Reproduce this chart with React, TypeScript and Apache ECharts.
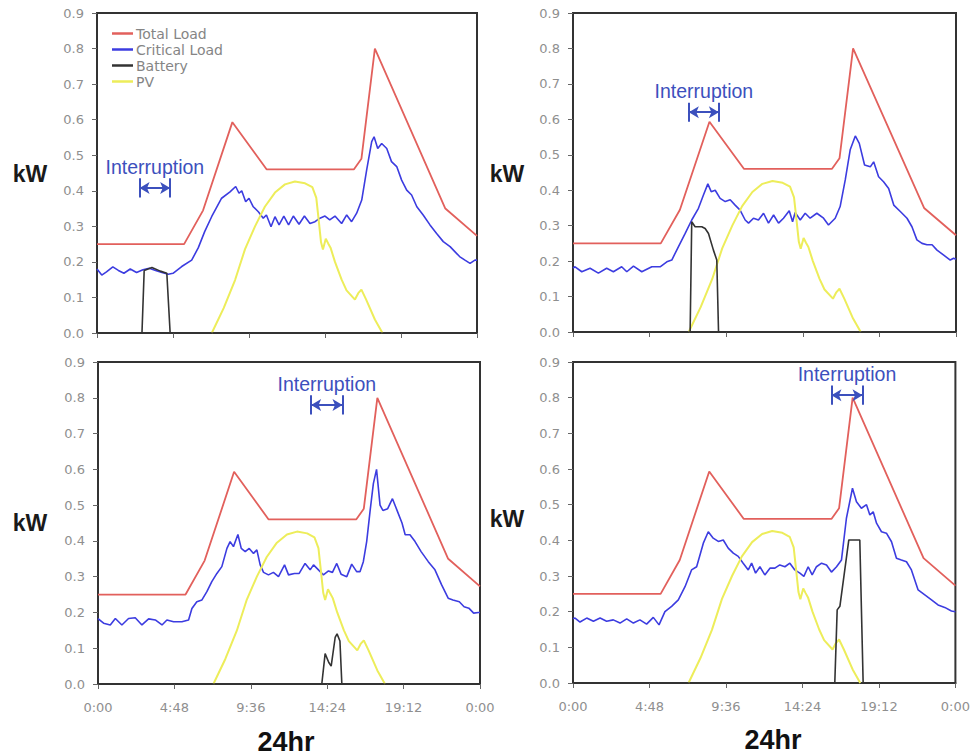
import React, { useEffect, useRef } from "react";
import * as echarts from "echarts";

// ---- data (time in hours, value in kW) ----
const xTickLabels = ["0:00", "4:48", "9:36", "14:24", "19:12", "0:00"];
const legendNames = ["Total Load", "Critical Load", "Battery", "PV"];

const totalLoad: [number, number][] = [
  [0, 0.25], [5.5, 0.25], [6.7, 0.345], [8.55, 0.593], [10.72, 0.46],
  [16.22, 0.46], [16.7, 0.49], [17.55, 0.8], [22.0, 0.35], [24, 0.273],
];

const pv: [number, number][] = [
  [7.25, 0], [8.0, 0.07], [8.72, 0.149], [9.35, 0.236], [9.98, 0.3], [10.6, 0.355],
  [11.24, 0.395], [11.87, 0.418], [12.5, 0.426], [13.14, 0.421], [13.6, 0.41],
  [13.85, 0.38], [14.02, 0.31], [14.15, 0.255], [14.27, 0.235], [14.45, 0.265],
  [14.6, 0.252], [14.75, 0.24], [15.03, 0.2], [15.45, 0.15], [15.76, 0.12],
  [16.29, 0.094], [16.5, 0.112], [16.7, 0.122], [17.0, 0.094], [17.55, 0.038], [18.03, 0],
];

const criticalTL: [number, number][] = [
  [0, 0.18], [0.3, 0.163], [0.6, 0.172], [1.0, 0.186], [1.35, 0.176], [1.7, 0.168],
  [2.1, 0.18], [2.5, 0.17], [2.9, 0.178], [3.3, 0.182], [3.7, 0.176], [4.1, 0.17],
  [4.5, 0.165], [4.8, 0.168], [5.35, 0.187], [5.98, 0.205], [6.4, 0.24], [6.8, 0.285],
  [7.24, 0.327], [7.87, 0.379], [8.4, 0.397], [8.76, 0.412], [8.97, 0.393], [9.14, 0.4],
  [9.39, 0.369], [9.6, 0.379], [9.87, 0.355], [10.19, 0.341], [10.5, 0.323], [10.7, 0.332],
  [10.99, 0.299], [11.24, 0.327], [11.5, 0.304], [11.8, 0.329], [12.1, 0.304], [12.4, 0.329],
  [12.76, 0.306], [13.1, 0.329], [13.45, 0.308], [13.77, 0.313], [14.08, 0.323], [14.4, 0.329],
  [14.7, 0.318], [15.03, 0.329], [15.45, 0.308], [15.77, 0.332], [16.08, 0.313], [16.4, 0.337],
  [16.72, 0.374], [17.03, 0.458], [17.35, 0.538], [17.5, 0.552], [17.73, 0.519], [17.98, 0.533],
  [18.3, 0.519], [18.6, 0.482], [18.93, 0.468], [19.24, 0.43], [19.56, 0.402], [19.87, 0.388],
  [20.2, 0.355], [20.6, 0.332], [21.03, 0.304], [21.45, 0.28], [21.87, 0.257], [22.3, 0.243],
  [22.6, 0.229], [22.9, 0.215], [23.24, 0.205], [23.56, 0.196], [23.87, 0.205], [24, 0.205],
];

const criticalTR: [number, number][] = [
  [0, 0.18], [0.13, 0.184], [0.55, 0.17], [1.07, 0.18], [1.59, 0.166], [2.11, 0.18],
  [2.53, 0.17], [3.05, 0.184], [3.37, 0.17], [3.79, 0.186], [4.31, 0.17], [4.94, 0.184],
  [5.46, 0.184], [5.88, 0.198], [6.19, 0.203], [6.61, 0.241], [7.03, 0.278], [7.44, 0.316],
  [7.86, 0.349], [8.18, 0.387], [8.45, 0.418], [8.66, 0.396], [8.91, 0.4], [9.22, 0.377],
  [9.54, 0.368], [9.85, 0.373], [10.16, 0.358], [10.47, 0.344], [10.79, 0.316], [11.0, 0.307],
  [11.31, 0.321], [11.62, 0.316], [11.94, 0.335], [12.25, 0.307], [12.57, 0.33], [12.88, 0.307],
  [13.19, 0.321], [13.55, 0.342], [13.76, 0.311], [13.92, 0.337], [14.24, 0.316], [14.55, 0.335],
  [14.86, 0.321], [15.28, 0.335], [15.7, 0.321], [16.01, 0.302], [16.43, 0.321], [16.74, 0.354],
  [17.06, 0.429], [17.37, 0.514], [17.69, 0.553], [17.94, 0.532], [18.27, 0.471], [18.63, 0.466],
  [18.84, 0.48], [19.15, 0.438], [19.46, 0.424], [19.78, 0.405], [20.1, 0.358], [20.51, 0.34],
  [20.93, 0.321], [21.24, 0.297], [21.55, 0.26], [21.87, 0.25], [22.18, 0.246], [22.5, 0.246],
  [22.81, 0.231], [23.23, 0.217], [23.64, 0.203], [23.85, 0.208], [24, 0.205],
];

const criticalBL: [number, number][] = [
  [0, 0.183], [0.35, 0.17], [0.77, 0.165], [1.09, 0.183], [1.5, 0.165], [1.92, 0.183],
  [2.34, 0.185], [2.76, 0.165], [3.18, 0.182], [3.6, 0.179], [4.02, 0.165], [4.33, 0.179],
  [4.75, 0.174], [5.27, 0.174], [5.69, 0.179], [5.9, 0.211], [6.21, 0.23], [6.53, 0.235],
  [6.84, 0.258], [7.15, 0.286], [7.47, 0.309], [7.78, 0.328], [8.1, 0.379], [8.3, 0.398],
  [8.51, 0.384], [8.79, 0.418], [9.0, 0.379], [9.25, 0.37], [9.5, 0.379], [9.77, 0.365],
  [9.98, 0.375], [10.19, 0.333], [10.4, 0.312], [10.71, 0.305], [11.02, 0.312], [11.34, 0.3],
  [11.72, 0.333], [11.97, 0.305], [12.34, 0.309], [12.64, 0.309], [13.01, 0.337], [13.33, 0.319],
  [13.54, 0.333], [13.85, 0.319], [14.16, 0.305], [14.48, 0.316], [14.73, 0.312], [15.0, 0.337],
  [15.27, 0.307], [15.63, 0.3], [15.94, 0.335], [16.25, 0.314], [16.46, 0.314], [16.67, 0.342],
  [16.88, 0.398], [17.09, 0.482], [17.3, 0.56], [17.5, 0.6], [17.72, 0.5], [17.9, 0.485],
  [18.2, 0.49], [18.5, 0.518], [18.8, 0.484], [19.1, 0.45], [19.3, 0.417], [19.6, 0.417],
  [19.92, 0.398], [20.3, 0.37], [20.75, 0.342], [21.17, 0.319], [21.59, 0.277], [22.0, 0.24],
  [22.3, 0.235], [22.7, 0.23], [23.0, 0.216], [23.3, 0.212], [23.6, 0.198], [23.9, 0.2], [24, 0.2],
];

const criticalBR: [number, number][] = [
  [0, 0.18], [0.13, 0.182], [0.44, 0.171], [0.86, 0.182], [1.28, 0.173], [1.7, 0.182],
  [2.11, 0.173], [2.53, 0.177], [2.95, 0.168], [3.37, 0.18], [3.79, 0.168], [4.2, 0.177],
  [4.62, 0.165], [5.04, 0.184], [5.4, 0.163], [5.77, 0.2], [6.19, 0.215], [6.61, 0.233],
  [7.03, 0.27], [7.44, 0.317], [7.76, 0.326], [8.18, 0.392], [8.49, 0.424], [8.8, 0.406],
  [9.12, 0.397], [9.43, 0.401], [9.74, 0.378], [10.06, 0.364], [10.37, 0.355], [10.68, 0.336],
  [11.0, 0.317], [11.21, 0.336], [11.46, 0.308], [11.73, 0.326], [12.04, 0.303], [12.36, 0.322],
  [12.67, 0.322], [12.98, 0.331], [13.3, 0.326], [13.61, 0.336], [13.92, 0.317], [14.24, 0.308],
  [14.49, 0.299], [14.76, 0.326], [15.01, 0.303], [15.28, 0.326], [15.6, 0.336], [15.91, 0.331],
  [16.22, 0.311], [16.54, 0.326], [16.85, 0.345], [17.16, 0.462], [17.54, 0.546], [17.79, 0.508],
  [18.1, 0.49], [18.42, 0.5], [18.63, 0.471], [18.84, 0.48], [19.05, 0.448], [19.36, 0.424],
  [19.67, 0.42], [19.99, 0.396], [20.3, 0.35], [20.61, 0.345], [20.93, 0.34], [21.24, 0.317],
  [21.66, 0.261], [22.08, 0.247], [22.5, 0.233], [22.91, 0.219], [23.33, 0.212], [23.75, 0.202],
  [24, 0.2],
];

const batteryTL: [number, number][] = [
  [0, 0], [2.84, 0], [2.98, 0.176], [3.47, 0.184], [4.0, 0.174], [4.41, 0.168], [4.62, 0], [24, 0],
];
const batteryTR: [number, number][] = [
  [0, 0], [7.34, 0], [7.44, 0.311], [7.65, 0.297], [8.07, 0.297], [8.28, 0.292], [8.49, 0.278],
  [8.8, 0.231], [9.01, 0.203], [9.12, 0], [24, 0],
];
const batteryBL: [number, number][] = [
  [0, 0], [14.06, 0], [14.27, 0.085], [14.5, 0.06], [14.65, 0.05], [14.9, 0.13], [15.02, 0.14],
  [15.2, 0.12], [15.32, 0], [24, 0],
];
const batteryBR: [number, number][] = [
  [0, 0], [16.43, 0], [16.58, 0.205], [16.75, 0.215], [17.31, 0.401], [18.0, 0.401], [18.21, 0], [24, 0],
];

// interruption annotations: [start hour, end hour, level kW]
const interruptStart = [2.69, 7.26, 13.39, 16.22];
const interruptEnd = [4.62, 9.14, 15.36, 18.17];
const interruptLevel = [0.408, 0.62, 0.78, 0.807];

const criticalSets = [criticalTL, criticalTR, criticalBL, criticalBR];
const batterySets = [batteryTL, batteryTR, batteryBL, batteryBR];

// ---- styles / layout ----
const RED = "#e2605c";
const BLUE = "#3c3ce0";
const BLACK = "#333333";
const YELLOW = "#eded5a";
const ANNOT = "#3c50bd";
const BAR_HALF = 0.027;

const grids = [
  { left: 97, top: 13, width: 380, height: 320 },
  { left: 573, top: 13, width: 383, height: 319 },
  { left: 98, top: 362, width: 382, height: 322 },
  { left: 573, top: 362, width: 383, height: 321 },
];

export default function App() {
  const ref = useRef<HTMLDivElement>(null);

  useEffect(() => {
    if (!ref.current) return;
    const chart = echarts.init(ref.current, null, { renderer: "svg" });

    const xAxes = grids.map((_, i) => ({
      type: "value",
      gridIndex: i,
      min: 0,
      max: 24,
      interval: 4.8,
      axisLine: { show: true, lineStyle: { color: "#333", width: 2 } },
      axisTick: { show: true, length: 5, lineStyle: { color: "#666" } },
      splitLine: { show: false },
      axisLabel: {
        show: i >= 2,
        margin: 17,
        color: "#8f8f8f",
        fontSize: 13,
        fontFamily: "DejaVu Sans",
        formatter: (v: number) => xTickLabels[Math.round(v / 4.8)] ?? "",
      },
    }));

    const yAxes = grids.map((_, i) => ({
      type: "value",
      gridIndex: i,
      min: 0,
      max: 0.9,
      interval: 0.1,
      axisLine: { show: true, lineStyle: { color: "#333", width: 2 } },
      axisTick: { show: true, length: 5, lineStyle: { color: "#666" } },
      splitLine: { show: false },
      axisLabel: {
        margin: 13,
        color: "#8f8f8f",
        fontSize: 13,
        fontFamily: "DejaVu Sans",
        formatter: (v: number) => v.toFixed(1),
      },
    }));

    const series: any[] = [];
    grids.forEach((_, i) => {
      const base = { type: "line", xAxisIndex: i, yAxisIndex: i, symbol: "none", silent: true };
      series.push({ ...base, name: "Total Load", color: RED, data: totalLoad, lineStyle: { color: RED, width: 1.8 } });
      series.push({ ...base, name: "Critical Load", color: BLUE, data: criticalSets[i], lineStyle: { color: BLUE, width: 1.6 } });
      series.push({ ...base, name: "PV", color: YELLOW, data: pv, lineStyle: { color: YELLOW, width: 2 } });
      const s = interruptStart[i];
      const e = interruptEnd[i];
      const lv = interruptLevel[i];
      series.push({
        ...base,
        name: "Battery",
        color: BLACK,
        data: batterySets[i],
        lineStyle: { color: BLACK, width: 1.6 },
        markLine: {
          silent: true,
          animation: false,
          symbol: ["arrow", "arrow"],
          symbolSize: [9, 10],
          lineStyle: { color: ANNOT, width: 2, type: "solid" },
          label: {
            show: true,
            position: "insideMiddleTop",
            distance: 11,
            formatter: "Interruption",
            color: ANNOT,
            fontSize: 19.5,
            fontFamily: "Liberation Sans",
          },
          data: [
            [{ coord: [s, lv] }, { coord: [e, lv] }],
            [
              { coord: [s, lv - BAR_HALF], symbol: "none", label: { show: false } },
              { coord: [s, lv + BAR_HALF], symbol: "none", label: { show: false } },
            ],
            [
              { coord: [e, lv - BAR_HALF], symbol: "none", label: { show: false } },
              { coord: [e, lv + BAR_HALF], symbol: "none", label: { show: false } },
            ],
          ],
        },
      });
    });

    const kwPos = [
      [30, 174],
      [507, 174],
      [30, 523],
      [507, 519],
    ];
    const hrPos = [
      [286, 742],
      [773, 740],
    ];

    const graphic: any[] = [
      ...kwPos.map(([x, y]) => ({
        type: "text",
        x,
        y,
        style: {
          text: "kW",
          fill: "#1a1a1a",
          font: "bold 23px 'Liberation Sans', Arial, sans-serif",
          textAlign: "center",
          textVerticalAlign: "middle",
        },
      })),
      ...hrPos.map(([x, y]) => ({
        type: "text",
        x,
        y,
        style: {
          text: "24hr",
          fill: "#111",
          font: "bold 27px 'Liberation Sans', Arial, sans-serif",
          textAlign: "center",
          textVerticalAlign: "middle",
        },
      })),
    ];

    chart.setOption({
      animation: false,
      backgroundColor: "#ffffff",
      grid: grids.map((g) => ({
        ...g,
        show: true,
        borderColor: "#333",
        borderWidth: 2,
        backgroundColor: "transparent",
        containLabel: false,
      })),
      xAxis: xAxes,
      yAxis: yAxes,
      legend: {
        data: legendNames,
        orient: "vertical",
        left: 112,
        top: 26,
        padding: 0,
        itemWidth: 21,
        itemHeight: 15,
        itemGap: 1,
        selectedMode: false,
        icon: "path://M0,6 L21,6 L21,8.5 L0,8.5 Z",
        textStyle: { color: "#858585", fontSize: 14, lineHeight: 15, fontFamily: "DejaVu Sans", padding: [0, 0, 0, -2] },
      },
      graphic,
      series,
    });

    return () => chart.dispose();
  }, []);

  return (
    <div
      ref={ref}
      style={{ position: "fixed", left: 0, top: 0, width: 973, height: 756, background: "#fff" }}
    />
  );
}
